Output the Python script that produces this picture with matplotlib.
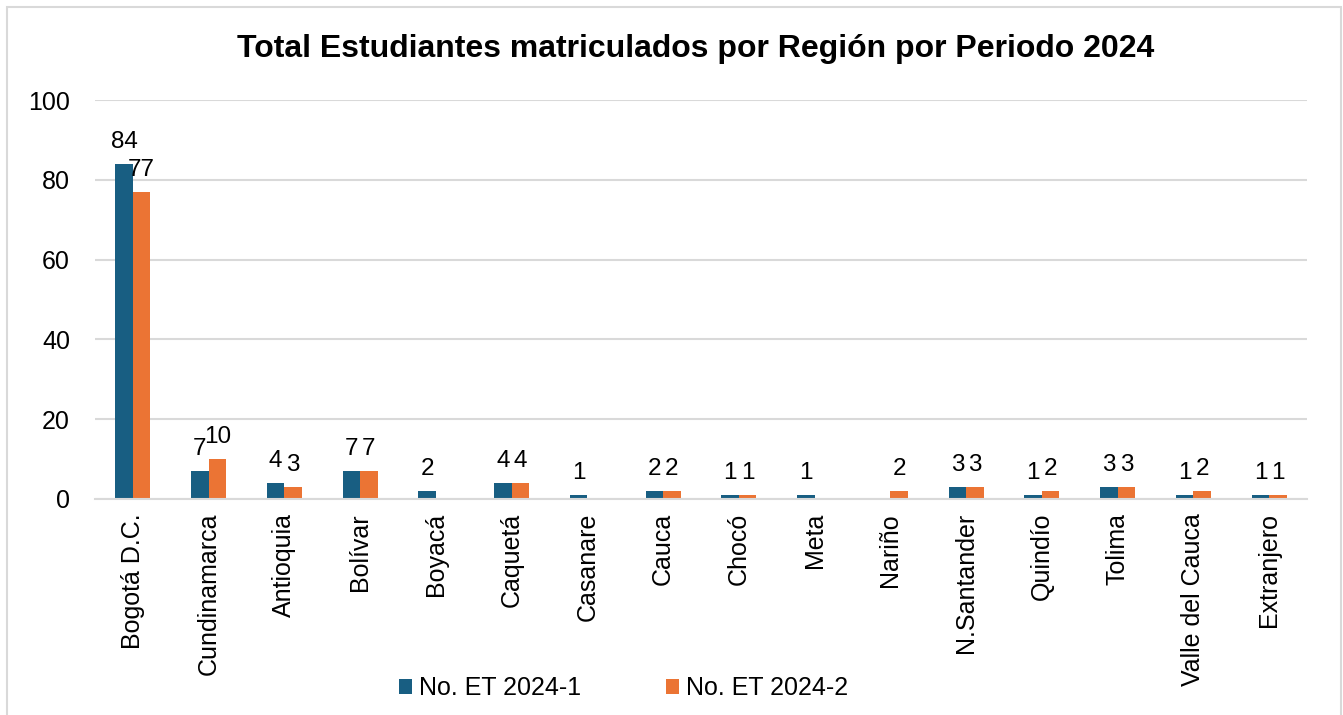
import numpy as np
import matplotlib.pyplot as plt
from matplotlib.patches import Rectangle

plt.rcParams['font.family'] = ['Liberation Sans', 'DejaVu Sans']

# datos
regiones = ["Bogotá D.C.", "Cundinamarca", "Antioquia", "Bolívar", "Boyacá",
            "Caquetá", "Casanare", "Cauca", "Chocó", "Meta", "Nariño",
            "N.Santander", "Quindío", "Tolima", "Valle del Cauca", "Extranjero"]
et_2024_1 = [84, 7, 4, 7, 2, 4, 1, 2, 1, 1, 0, 3, 1, 3, 1, 1]
et_2024_2 = [77, 10, 3, 7, 0, 4, 0, 2, 1, 0, 2, 3, 2, 3, 2, 1]
series = ["No. ET 2024-1", "No. ET 2024-2"]
colores = ["#185e82", "#eb7434"]

fig = plt.figure(figsize=(13.43, 7.15), dpi=100)
ax = fig.add_axes([95 / 1343, 1 - 499 / 715, (1307 - 95) / 1343, 399 / 715])

# borde del grafico
fig.patches.append(Rectangle((7 / 1343, -0.01), 1334 / 1343, 1 - 7 / 715 + 0.01,
                             transform=fig.transFigure, fill=False,
                             edgecolor="#d9d9d9", linewidth=1.5))

x = np.arange(len(regiones))
w = 0.23
b1 = ax.bar(x - w / 2, et_2024_1, w, color=colores[0], label=series[0])
b2 = ax.bar(x + w / 2, et_2024_2, w, color=colores[1], label=series[1])

for bars, vals in [(b1, et_2024_1), (b2, et_2024_2)]:
    for r, v in zip(bars, vals):
        if v == 0:
            continue
        ax.annotate(str(v), (r.get_x() + r.get_width() / 2, v),
                    xytext=(0, 8), textcoords="offset points",
                    ha="center", va="bottom", fontsize=17.5)

ax.set_xlim(-0.5, len(regiones) - 0.5)
ax.set_ylim(0, 100)
ax.set_yticks(range(0, 101, 20))
ax.set_xticks(x)
ax.set_xticklabels(regiones, rotation=90, fontsize=18)
ax.tick_params(axis="y", labelsize=18, length=0, pad=18)
ax.tick_params(axis="x", length=0, pad=10)
ax.grid(axis="y", color="#d9d9d9", linewidth=1.5)
ax.set_axisbelow(True)
for s in ["top", "right", "left"]:
    ax.spines[s].set_visible(False)
ax.spines["bottom"].set_color("#d9d9d9")
ax.spines["bottom"].set_linewidth(1.5)

fig.text(0.518, 1 - 49 / 715, "Total Estudiantes matriculados por Región por Periodo 2024",
         ha="center", va="center", fontsize=23, fontweight="bold")

fig.legend(handles=[b1, b2], labels=series, loc="center",
           bbox_to_anchor=(0.464, 1 - 688 / 715), ncol=2, frameon=False,
           fontsize=18, handlelength=0.55, handleheight=0.55,
           columnspacing=3.4, handletextpad=0.25)

fig.savefig("out.png", dpi=100)
